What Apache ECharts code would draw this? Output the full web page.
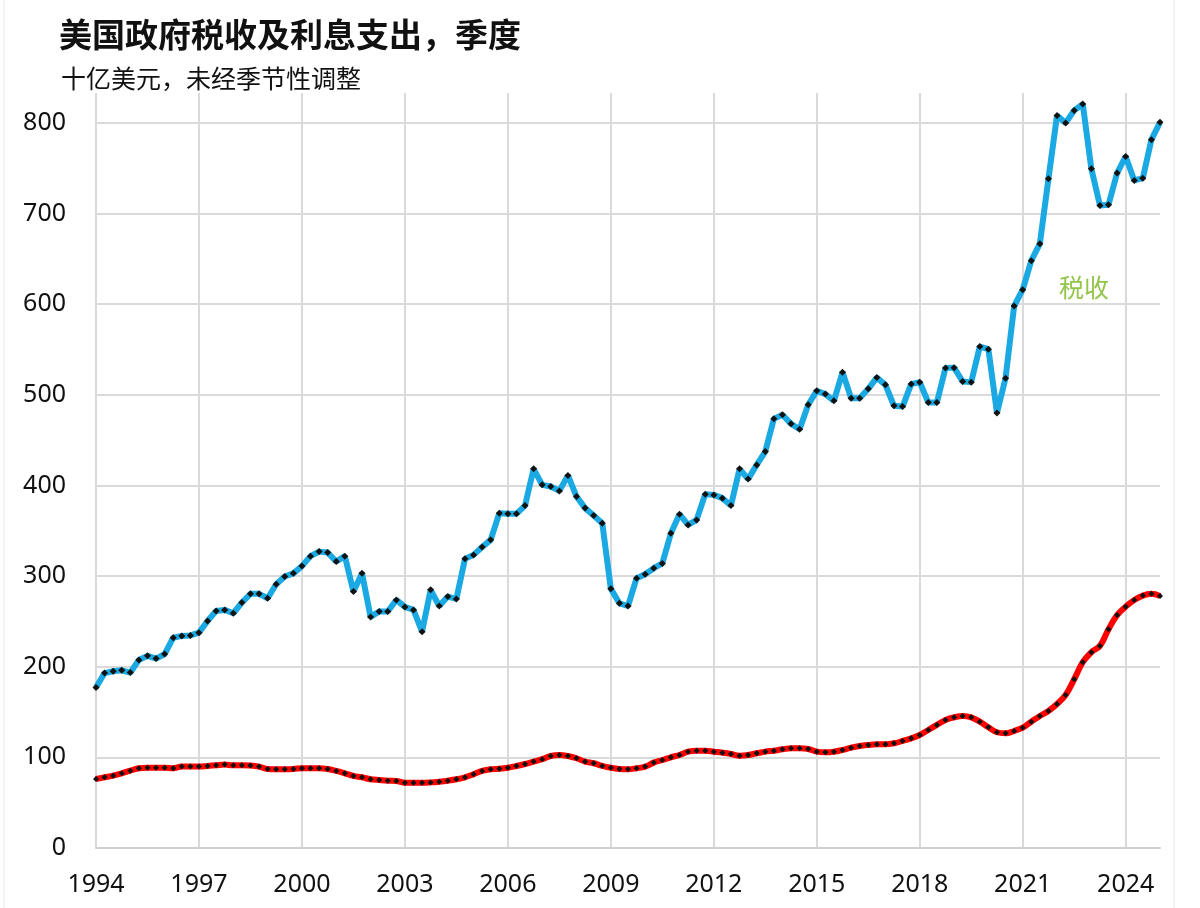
<!DOCTYPE html>
<html>
<head>
<meta charset="utf-8">
<script src="https://cdn.jsdelivr.net/npm/echarts@6/dist/echarts.min.js"></script>
<style>
html,body{margin:0;padding:0;background:#fff;}
#chart{width:1200px;height:908px;}
</style>
</head>
<body>
<div id="chart"></div>
<script>
// Quarterly categories 1994Q1 .. 2025Q1
const startYear = 1994;
const endYear = 2025;
const categories = [];
for (let y = startYear; y <= endYear; y++) {
  for (let q = 1; q <= 4; q++) {
    if (y === endYear && q > 1) break;
    categories.push(y + 'Q' + q);
  }
}

// 税收 (tax receipts), billions USD
const taxReceipts = [
  177, 193, 195, 196,
  193.5, 207.5, 212, 209,
  214, 232, 234, 234.5,
  237.6, 250.5, 261.6, 262.7,
  259, 270.8, 280.4, 280.4,
  275.6, 291, 299.5, 303,
  311, 322, 327, 326,
  316, 322, 283, 303,
  255, 261, 261, 273.7,
  266, 262.7, 238.7, 284.8,
  267, 277.4, 274.8, 319,
  323.4, 332, 340, 369.4,
  368.7, 368.7, 377.8, 418.3,
  400.7, 398.8, 394, 411,
  387.8, 375, 366.8, 358.4,
  286, 270, 267, 297.7,
  302, 308.7, 314, 347.3,
  368.3, 356.5, 362, 390.4,
  389.6, 386, 377.8, 418.3,
  407, 422.7, 437.4, 473.5,
  478, 468, 462, 489,
  504.4, 500.8, 493.4, 525,
  496.3, 496.3, 506.6, 519,
  511, 487.9, 487, 511.8,
  514, 491.5, 491.5, 529.5,
  530, 514.7, 514, 553.3,
  550.4, 480, 518.4, 598,
  616, 648, 666.7, 738.4,
  808.3, 800, 813.8, 820.8,
  749.4, 709, 709.7, 744.7,
  763, 736.5, 739, 781.5,
  800.6
];

// 利息支出 (interest outlays), billions USD
const interestOutlays = [
  76.2, 78, 79.8, 82.4,
  85.3, 88, 88.6, 88.6,
  88.6, 88, 89.8, 89.8,
  89.8, 90.5, 91.3, 92,
  91.3, 91.3, 91, 89.8,
  87.2, 87, 87, 87.2,
  88, 88, 88, 87.2,
  85, 82.4, 79.5, 78,
  75.8, 75, 74.3, 74,
  72, 72, 72, 72.4,
  73.2, 74.3, 75.8, 78,
  81.3, 85, 86.9, 87.5,
  88.6, 90.5, 92.7, 95.3,
  98, 101.5, 102.6, 101.5,
  99, 95.3, 93.5, 90.5,
  88.5, 87.2, 86.8, 88,
  89.8, 94.2, 97.1, 100.1,
  102.6, 106.3, 107.4, 107.4,
  106.3, 105.2, 103.8, 101.9,
  102.6, 104.5, 106.3, 107.4,
  108.9, 110, 110, 109.3,
  106.3, 105.6, 106.3, 108.2,
  110.7, 112.6, 113.7, 114.4,
  114.4, 115.5, 118.1, 121,
  124.7, 130.2, 135.8, 141.3,
  144.2, 145.7, 144.2, 139.4,
  133.2, 127.7, 126.6, 129.1,
  132.8, 139.4, 145.7, 151.2,
  158.9, 168.9, 186.2, 205,
  216, 223, 241.4, 257,
  266.3, 273.7, 278.5, 280.4,
  278
];

const yTicks = [0, 100, 200, 300, 400, 500, 600, 700, 800];

const labelFont = '"Noto Sans", "Open Sans", sans-serif';
const cjkFont = '"Noto Sans CJK SC", "Noto Sans", sans-serif';

const chart = echarts.init(document.getElementById('chart'));
chart.setOption({
  animation: false,
  backgroundColor: '#ffffff',
  title: [
    {
      text: '美国政府税收及利息支出，季度',
      left: 54, top: 13,
      textStyle: { fontFamily: cjkFont, fontSize: 33, fontWeight: 'bold', color: '#111' }
    },
    {
      text: '十亿美元，未经季节性调整',
      left: 56, top: 61,
      textStyle: { fontFamily: cjkFont, fontSize: 25, fontWeight: 'normal', color: '#111' }
    }
  ],
  graphic: [
    {
      type: 'text', left: 1059, top: 275,
      style: { text: '税收', fontFamily: cjkFont, fontSize: 25, fill: '#93c54b' }
    },
    { type: 'line', shape: { x1: 4, y1: 0, x2: 4, y2: 908 }, style: { stroke: '#e8e8e8', lineWidth: 1 } },
    { type: 'line', shape: { x1: 1174, y1: 0, x2: 1174, y2: 908 }, style: { stroke: '#e8e8e8', lineWidth: 1 } }
  ],
  grid: { left: 96, right: 40, top: 93, bottom: 60, containLabel: false },
  xAxis: {
    type: 'category',
    data: categories,
    boundaryGap: false,
    axisLine: { show: true, lineStyle: { color: '#d0d0d0', width: 2 } },
    axisTick: { show: false },
    axisLabel: {
      interval: 11,
      margin: 24,
      fontFamily: labelFont,
      fontSize: 25,
      color: '#111',
      formatter: v => v.slice(0, 4)
    },
    splitLine: { show: true, interval: 11, lineStyle: { color: '#dadada', width: 2 } }
  },
  yAxis: {
    type: 'value',
    min: yTicks[0],
    max: 833,
    interval: 100,
    axisLine: { show: false },
    axisTick: { show: false },
    axisLabel: {
      margin: 30,
      fontFamily: labelFont,
      fontSize: 25,
      color: '#111',
      showMaxLabel: false,
      formatter: v => (yTicks.indexOf(v) >= 0 ? String(v) : '')
    },
    splitLine: { show: true, showMaxLine: false, lineStyle: { color: '#dadada', width: 2 } }
  },
  series: [
    {
      name: '利息支出',
      type: 'line',
      data: interestOutlays,
      smooth: 0.4,
      showAllSymbol: true,
      lineStyle: { color: '#ff0000', width: 6 },
      symbol: 'diamond',
      symbolSize: 6,
      itemStyle: { color: '#111', borderWidth: 0 },
      z: 2
    },
    {
      name: '税收',
      type: 'line',
      data: taxReceipts,
      showAllSymbol: true,
      lineStyle: { color: '#1aa9e2', width: 6 },
      symbol: 'diamond',
      symbolSize: 7,
      itemStyle: { color: '#111', borderWidth: 0 },
      z: 3
    }
  ]
});
</script>
</body>
</html>
